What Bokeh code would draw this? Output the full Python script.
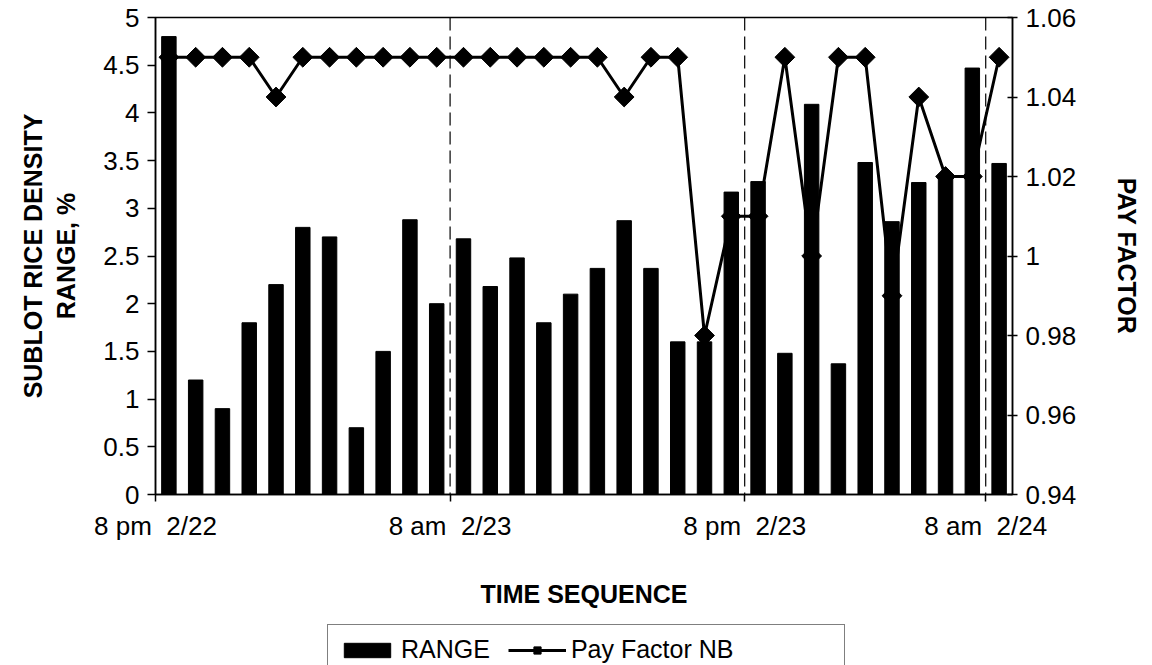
import math
from bokeh.plotting import figure
from bokeh.layouts import column
from bokeh.models import (Range1d, LinearAxis, FixedTicker, NumeralTickFormatter,
                          Span, Legend, LegendItem, ColumnDataSource)
from bokeh.embed import file_html
from bokeh.resources import INLINE

# ---- data -------------------------------------------------------------
sequence = list(range(32))
range_pct = [4.8, 1.2, 0.9, 1.8, 2.2, 2.8, 2.7, 0.7, 1.5, 2.88,
             2.0, 2.68, 2.18, 2.48, 1.8, 2.1, 2.37, 2.87, 2.37, 1.6,
             1.6, 3.17, 3.28, 1.48, 4.09, 1.37, 3.48, 2.86, 3.27, 3.33,
             4.47, 3.47]
pay_factor = [1.05, 1.05, 1.05, 1.05, 1.04, 1.05, 1.05, 1.05, 1.05, 1.05,
              1.05, 1.05, 1.05, 1.05, 1.05, 1.05, 1.05, 1.04, 1.05, 1.05,
              0.98, 1.01, 1.01, 1.05, 1.00, 1.05, 1.05, 0.99, 1.04, 1.02,
              1.02, 1.05]
time_tick_pos = [-0.5, 10.5, 21.5, 30.5]
time_tick_labels = ["8 pm\u00a0 2/22", "8 am\u00a0 2/23", "8 pm\u00a0 2/23", "8 am\u00a0 2/24"]
shift_breaks = [10.5, 21.5, 30.5]
left_ticks = [0, 0.5, 1, 1.5, 2, 2.5, 3, 3.5, 4, 4.5, 5]
right_ticks = [0.94, 0.96, 0.98, 1.0, 1.02, 1.04, 1.06]

FONT = "Liberation Sans"
W = 1144

src = ColumnDataSource(dict(x=sequence, r=range_pct, pf=pay_factor))

p = figure(width=W, height=610, output_backend="svg", toolbar_location=None,
           x_range=Range1d(-0.5, 31.5), y_range=Range1d(0, 5),
           min_border_left=155, min_border_right=125, min_border_top=17,
           min_border_bottom=113)
p.extra_y_ranges = {"pf": Range1d(0.94, 1.06)}
p.grid.visible = False
p.outline_line_color = "black"
p.outline_line_width = 1.5
p.background_fill_color = "white"
p.border_fill_color = "white"

bars = p.vbar(x="x", top="r", width=0.54, source=src, fill_color="black",
              line_color="black")

for b in shift_breaks:
    p.add_layout(Span(location=b, dimension="height", line_color="black",
                      line_width=1.2, line_dash="13 6"))

ln = p.line(x="x", y="pf", source=src, y_range_name="pf", line_color="black",
            line_width=3)
mk = p.scatter(x="x", y="pf", source=src, y_range_name="pf", marker="square",
               angle=math.pi / 4, size=14, fill_color="black", line_color="black")

# bottom axis
xa = p.xaxis[0]
xa.ticker = FixedTicker(ticks=time_tick_pos)
xa.major_label_overrides = {t: l for t, l in zip(time_tick_pos, time_tick_labels)}
xa.axis_label = "TIME SEQUENCE"
xa.minor_tick_line_color = None
xa.major_tick_in = 0
xa.major_tick_out = 7
xa.major_label_standoff = 9
xa.axis_label_standoff = 36

# left axis
ya = p.yaxis[0]
ya.ticker = FixedTicker(ticks=left_ticks)
ya.formatter = NumeralTickFormatter(format="0.[00]")
ya.axis_label = "SUBLOT RICE DENSITY\nRANGE, %"
ya.minor_tick_line_color = None
ya.major_tick_in = 0
ya.major_tick_out = 8
ya.major_label_standoff = 8
ya.axis_label_standoff = 20

# right axis
ra = LinearAxis(y_range_name="pf", ticker=FixedTicker(ticks=right_ticks),
                formatter=NumeralTickFormatter(format="0.[00]"),
                axis_label="PAY FACTOR")
ra.minor_tick_line_color = None
ra.major_tick_in = 5
ra.major_tick_out = 5
ra.major_label_standoff = 8
ra.axis_label_standoff = 34
p.add_layout(ra, "right")

for ax in (xa, ya, ra):
    ax.axis_line_color = "black"
    ax.axis_line_width = 1.5
    ax.major_tick_line_color = "black"
    ax.major_tick_line_width = 1.5
    ax.major_label_text_font = FONT
    ax.major_label_text_font_size = "26px"
    ax.major_label_text_color = "black"
    ax.axis_label_text_font = FONT
    ax.axis_label_text_font_size = "25px"
    ax.axis_label_text_font_style = "bold"
    ax.axis_label_text_color = "black"

# ---- legend strip below the chart ------------------------------------
# (its frame is aligned with the chart's frame by the column layout)
lg = figure(width=W, height=55, output_backend="svg", toolbar_location=None,
            x_axis_location=None, y_axis_location=None,
            x_range=Range1d(0, 1), y_range=Range1d(0, 1),
            min_border_left=0, min_border_right=0,
            min_border_top=0, min_border_bottom=0)
lg.grid.visible = False
lg.outline_line_color = None
# off-range proxy renderers: only their legend swatches are visible
proxy = ColumnDataSource(dict(x=[-5], y=[-5]))
lg_bar = lg.vbar(x="x", top="y", width=0.5, source=proxy,
                 fill_color="black", line_color="black")
lg_line = lg.line(x="x", y="y", source=proxy, line_color="black", line_width=3)
lg_mk = lg.scatter(x="x", y="y", source=proxy, marker="square",
                   angle=math.pi / 4, size=14, fill_color="black", line_color="black")
lg_blank = lg.scatter(x="x", y="y", source=proxy, marker="circle", size=1, alpha=0)
legend = Legend(items=[LegendItem(label="RANGE", renderers=[lg_bar]),
                       LegendItem(label="Pay Factor NB", renderers=[lg_line, lg_mk]),
                       LegendItem(label=" ", renderers=[lg_blank])],
                orientation="horizontal", location=(172, -10),
                border_line_color="black", border_line_width=1.2,
                background_fill_color="white", background_fill_alpha=1,
                label_text_font=FONT, label_text_font_size="25px",
                label_text_color="black",
                glyph_width=58, glyph_height=18, spacing=18, padding=10,
                label_standoff=5, margin=0)
lg.add_layout(legend, "center")

open("out.html", "w").write(file_html(column(p, lg, spacing=0), INLINE))
